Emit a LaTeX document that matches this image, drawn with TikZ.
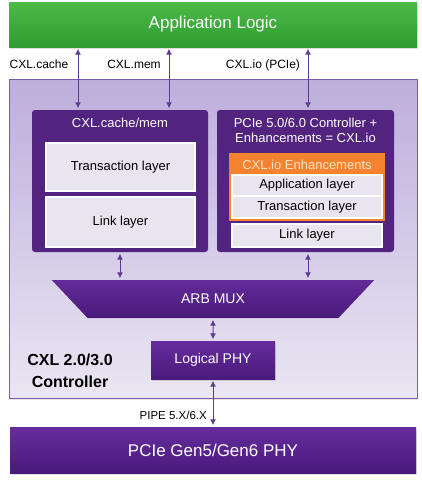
\documentclass[tikz,border=0pt]{standalone}
\usepackage{fontspec}
\setmainfont{Liberation Sans}
\usetikzlibrary{arrows.meta,shapes.geometric,shadows}

\definecolor{cxlgreenTop}{HTML}{4DBA46}
\definecolor{cxlgreenBot}{HTML}{2E9C31}
\definecolor{cxlpurple}{HTML}{52247F}
\definecolor{phyTop}{HTML}{662C9C}
\definecolor{phyBot}{HTML}{4A1A7C}
\definecolor{ctrlTop}{HTML}{BDAEDC}
\definecolor{ctrlBot}{HTML}{EAE6F2}
\definecolor{ctrlLine}{HTML}{7A5CA8}
\definecolor{layerfill}{HTML}{E9E5EF}
\definecolor{ioorange}{HTML}{F5822F}
\definecolor{iotext}{HTML}{FDE3CC}
\definecolor{busline}{HTML}{5E3A94}

\newcommand{\fsz}[1]{\fontsize{#1}{1.2\dimexpr#1pt\relax}\selectfont}

\begin{document}
\begin{tikzpicture}[
  x=1pt, y=-1pt,
  block/.style={rectangle, fill=cxlpurple, rounded corners=3pt, inner sep=0pt, text=white},
  layer/.style={rectangle, draw=white, line width=2pt, fill=layerfill, inner sep=0pt, font=\fsz{13}},
  phybox/.style={rectangle, top color=phyTop, bottom color=phyBot, draw=none, inner sep=0pt, text=white,
    drop shadow={opacity=0.25, shadow xshift=1pt, shadow yshift=-1.5pt}},
  bus/.style={{Latex[length=6pt,width=6pt]}-{Latex[length=6pt,width=6pt]}, line width=1pt, draw=busline,
    shorten <=1.5pt, shorten >=1.5pt},
  buslabel/.style={font=\fsz{12}, inner sep=0pt},
  node distance=2.5cm
]
\useasboundingbox (0,0) rectangle (422,480);

\node[rectangle, minimum width=408pt, minimum height=45pt, inner sep=0pt,
  top color=cxlgreenTop, bottom color=cxlgreenBot, text=white, font=\fsz{17},
  drop shadow={opacity=0.25, shadow xshift=1pt, shadow yshift=-1.5pt}] (app) at (213,24.5) {Application Logic};

\node[rectangle, minimum width=408pt, minimum height=319pt, inner sep=0pt, draw=ctrlLine, line width=0.8pt,
  top color=ctrlTop, bottom color=ctrlBot,
  drop shadow={opacity=0.2, shadow xshift=1pt, shadow yshift=-1.5pt}] (ctrl) at (213,238.5) {};

% CXL.cache/mem side
\node[block, minimum width=176pt, minimum height=142pt] (cache) at (120,181) {};
\node[font=\fsz{13}, text=white, inner sep=0pt] (cachetitle) at (120,123) {CXL.cache/mem};
\node[layer, minimum width=149pt, minimum height=48pt] (cachetxn) at (120.5,167) {Transaction layer};
\node[layer, below of=cachetxn, node distance=55pt, minimum width=149pt, minimum height=50pt] (cachelink) {Link layer};

% CXL.io side
\node[block, minimum width=177pt, minimum height=142pt] (io) at (305.5,181) {};
\node[font=\fsz{13}, text=white, align=center, inner sep=0pt] (iotitle) at (305.5,130)
  {PCIe 5.0/6.0 Controller +\\[-0.5pt]Enhancements = CXL.io};
\node[rectangle, fill=ioorange, minimum width=156pt, minimum height=68pt, inner sep=0pt] (ioenh) at (307,187) {};
\node[font=\fsz{13}, text=iotext, inner sep=0pt] (ioenhtitle) at (307,165) {CXL.io Enhancements};
\node[layer, minimum width=150pt, minimum height=21.5pt] (ioapp) at (307,185.5) {Application layer};
\node[layer, below of=ioapp, node distance=21.5pt, minimum width=150pt, minimum height=21.5pt] (iotxn) {Transaction layer};
\node[layer, minimum width=150pt, minimum height=23pt] (iolink) at (307,235.5) {Link layer};

% ARB MUX and PHY
\node[trapezium, trapezium angle=47, trapezium stretches=true, shape border rotate=180,
  minimum width=325pt, minimum height=38pt, inner sep=0pt,
  top color=phyTop!85!cxlpurple, bottom color=phyBot, text=white, font=\fsz{14}] (mux) at (213,299) {ARB MUX};
\node[phybox, minimum width=124pt, minimum height=38pt, font=\fsz{14}] (lphy) at (213,360) {Logical PHY};
\node[phybox, minimum width=406pt, minimum height=46pt, font=\fsz{17}] (phy) at (213,450) {PCIe Gen5/Gen6 PHY};

\node[font=\bfseries\fontsize{16}{21.5}\selectfont, align=center, inner sep=0pt] (ctrllabel) at (70,371)
  {CXL 2.0/3.0\\Controller};

% Arrows
\coordinate (cachebus) at ([xshift=-42pt]cache.north);
\coordinate (membus) at ([xshift=49pt]cache.north);
\coordinate (iobus) at ([xshift=2.5pt]io.north);
\draw[bus] (app.south -| cachebus) -- (cachebus);
\draw[bus] (app.south -| membus) -- (membus);
\draw[bus] (app.south -| iobus) -- (iobus);
\draw[bus] (cache.south) -- (cache.south |- mux.north);
\draw[bus] (iobus |- io.south) -- (iobus |- mux.north);
\draw[bus] (mux.south) -- (lphy.north);
\draw[bus] (lphy.south) -- (phy.north);

% Labels
\node[buslabel, anchor=base] (cachelbl) at (39,68.5) {CXL.cache};
\node[buslabel, anchor=base] (memlbl) at (134,68.5) {CXL.mem};
\node[buslabel, anchor=base] (iolbl) at (263,68.5) {CXL.io (PCIe)};
\node[buslabel, font=\fsz{11.5}, anchor=base east] (pipelbl) at (207,419.5) {PIPE 5.X/6.X};
\end{tikzpicture}
\end{document}
